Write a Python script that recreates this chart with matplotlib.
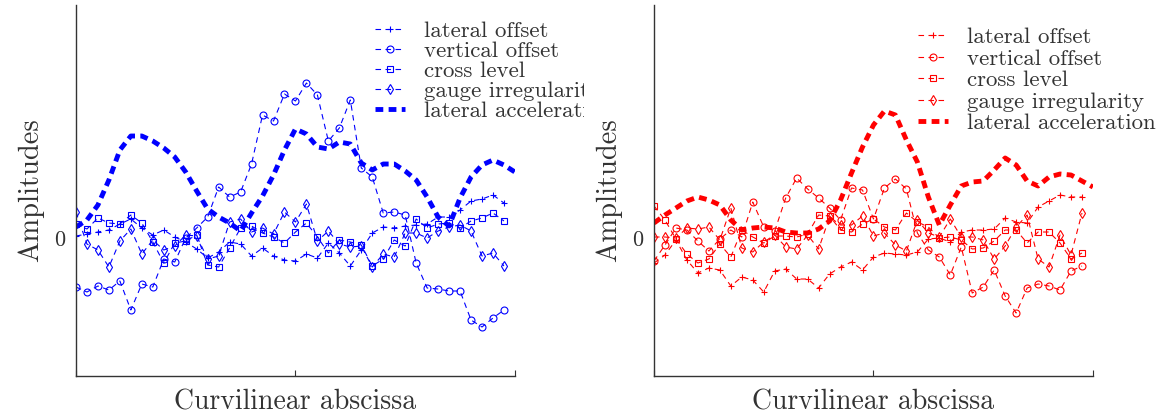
import matplotlib
matplotlib.use("Agg")
import matplotlib.pyplot as plt
import numpy as np
from matplotlib.transforms import Bbox

plt.rcParams["font.family"] = "serif"
plt.rcParams["font.serif"] = ["cmr10"]
plt.rcParams["axes.formatter.use_mathtext"] = True
plt.rcParams["mathtext.fontset"] = "cm"

# ---- data (amplitudes, arbitrary units) ----
series_names = ["lateral offset", "vertical offset", "cross level",
                "gauge irregularity", "lateral acceleration"]

left_lateral = [0.2, 0.4, 0.6, 0.8, 1.4, 1.9, 1.0, 0.3, 0.8, 0.1, -0.4, -1.1, -2.0, -1.4, -0.4, -0.6,
                -1.8, -1.0, -1.8, -2.2, -2.3, -1.6, -2.0, -0.5, -1.5, -2.8, -1.2, 0.5, 1.1, 1.0, 1.2,
                1.3, 1.4, 2.1, 2.1, 2.8, 3.7, 3.9, 4.3, 3.5]
left_vertical = [-4.9, -5.4, -4.8, -5.2, -4.3, -7.2, -4.6, -4.9, -2.1, -2.4, 0.0, 1.0, 2.1, 5.1, 4.1, 4.6,
                 7.4, 12.3, 11.7, 14.4, 13.7, 15.5, 14.3, 9.7, 11.0, 13.8, 7.0, 6.1, 2.5, 2.6, 2.3,
                 -2.5, -5.0, -5.1, -5.3, -5.3, -8.2, -8.9, -8.0, -7.2]
left_cross = [1.4, 0.9, 2.0, 1.5, 1.4, 2.3, 1.5, -0.4, -2.5, -0.5, -0.3, 0.3, -2.7, -2.9, -1.0, 1.0,
              1.2, 0.5, 0.1, -0.5, 0.6, 1.5, 0.1, -1.5, -0.2, -0.4, -0.7, -2.8, -2.1, -0.2, -0.8,
              1.9, 1.0, 1.4, 1.5, 1.0, 1.7, 2.0, 2.5, 1.7]
left_gauge = [2.6, -0.6, -1.2, -2.9, -0.3, 0.9, -1.6, -0.2, -1.2, -0.8, 0.3, 0.2, -2.1, -1.8, 1.6, 1.9,
              0.6, 1.0, 0.4, 2.6, 1.6, 3.4, -0.3, 0.7, -0.6, -0.9, -0.8, -2.9, -1.6, -1.9, 0.5,
              0.5, 0.0, 0.7, 1.1, 1.3, 0.7, -1.8, -1.5, -2.8]
left_accel = [1.1, 1.8, 3.3, 5.8, 8.8, 10.2, 10.2, 9.7, 9.0, 8.1, 6.6, 4.7, 2.9, 2.1, 1.5, 0.7,
              2.5, 4.2, 6.3, 8.8, 10.9, 10.4, 9.1, 8.9, 9.6, 9.4, 7.5, 6.8, 7.4, 7.4, 6.7,
              5.8, 4.1, 2.1, 1.2, 4.0, 6.1, 7.3, 7.8, 7.3, 6.6]

right_lateral = [-2.5, -1.7, -0.2, -2.2, -3.5, -3.0, -3.2, -4.8, -3.9, -4.2, -5.4, -3.3, -3.1, -4.1,
                 -4.1, -5.0, -3.6, -2.9, -2.4, -3.2, -1.9, -1.5, -1.6, -1.7, -1.4, -0.1, 0.0, -0.4,
                 0.6, 0.8, 0.8, 0.9, 2.0, 1.6, 1.5, 3.1, 3.7, 4.3, 4.1, 4.1]
right_vertical = [-2.3, -0.7, 1.0, 0.8, -0.3, -1.3, -0.1, 0.8, 0.1, 3.6, 1.1, 0.7, 4.0, 6.0, 4.9,
                  4.0, 3.0, 1.8, 5.0, 4.8, 1.9, 5.0, 5.9, 4.9, 0.5, -1.2, -1.9, -3.7, -0.9, -5.5,
                  -4.9, -3.2, -5.8, -7.5, -5.0, -4.6, -4.8, -5.2, -3.3, -2.8]
right_cross = [3.2, 1.8, -0.1, -1.6, -2.5, -2.1, -0.6, -1.9, 0.8, 0.1, -0.5, 0.2, 0.2, 0.1, 0.4, 2.3,
               2.2, 0.8, 0.6, 1.4, 1.9, 1.1, 0.8, 2.5, 1.6, 1.1, 0.0, 0.1, -0.2, -1.1, -1.0, -0.3,
               0.8, 0.8, -0.5, 0.6, 0.6, -0.5, -2.1, -1.5]
right_gauge = [0.1, 0.1, 0.0, 1.0, 0.9, 1.1, -0.2, 3.0, -1.0, -1.4, -0.4, 0.3, -0.9, -1.1, 0.3, -1.1,
               2.1, 1.3, 1.3, 2.2, 0.2, 0.5, -0.7, -1.3, 1.8, 0.5, 0.1, 1.9, 0.1, 0.1, -0.2, -2.1,
               -0.8, 1.1, 2.3, -2.1, -2.9, 0.3, -1.7, 2.5]
right_accel = [1.5, 2.3, 3.0, 3.7, 4.1, 3.8, 3.3, 1.8, 0.8, 1.0, 1.1, 1.0, 0.6, 0.5, 0.5, 0.9, 1.7,
               3.8, 6.5, 9.1, 11.3, 12.7, 12.3, 9.8, 7.6, 4.1, 1.3, 3.3, 5.2, 5.6, 5.7, 6.8, 8.0,
               7.3, 5.7, 5.2, 6.1, 6.4, 6.3, 5.7, 5.1]

markers = ["+", "o", "s", "d"]


def draw_panel(ax, data, accel, color, legend_anchor, spacing):
    x = np.arange(len(data[0]))
    xa = np.arange(len(accel))
    for vals, mk, name in zip(data, markers, series_names[:4]):
        ax.plot(x, vals, linestyle=(0, (5, 4)), linewidth=0.8, color=color,
                marker=mk, markersize=5 if mk != "d" else 5.5, markerfacecolor="none",
                markeredgewidth=0.8, label=name)
    ax.plot(xa, accel, linestyle=(0, (1.6, 1.1)), linewidth=3.5, color=color,
            label=series_names[4])

    ax.set_xlim(0, 40)
    ax.set_ylim(-13.8, 23.3)
    ax.set_xticks([0, 20, 40])
    ax.set_xticklabels([])
    ax.set_yticks([0])
    ax.set_yticklabels(["0"])
    ax.tick_params(axis="x", direction="in", length=4, width=0.8, colors="#333333")
    ax.tick_params(axis="y", length=0, labelsize=16, pad=8, labelcolor="#333333")
    for side in ["top", "right"]:
        ax.spines[side].set_visible(False)
    for side in ["left", "bottom"]:
        ax.spines[side].set_color("#333333")
        ax.spines[side].set_linewidth(1.0)
    ax.set_xlabel("Curvilinear abscissa", fontsize=20, color="#333333", labelpad=6)
    ax.set_ylabel("Amplitudes", fontsize=20.5, color="#333333", labelpad=7)

    leg = ax.legend(loc="upper left", bbox_to_anchor=legend_anchor, frameon=False,
                    fontsize=16.5, handlelength=1.3, handletextpad=0.85, labelspacing=spacing,
                    borderaxespad=0, borderpad=0)
    for t in leg.get_texts():
        t.set_color("#333333")
    return leg


fig = plt.figure(figsize=(11.6, 4.17), dpi=100)
ax1 = fig.add_axes([0.0655, 0.0983, 0.3784, 0.8897])
ax2 = fig.add_axes([0.5638, 0.0983, 0.3784, 0.8897])

leg1 = draw_panel(ax1, [left_lateral, left_vertical, left_cross, left_gauge], left_accel,
                  (0, 0, 1), (0.681, 0.957), 0.0)
leg2 = draw_panel(ax2, [right_lateral, right_vertical, right_cross, right_gauge], right_accel,
                  (1, 0, 0), (0.601, 0.94), 0.06)

# the left legend is cut off at the edge of its panel in the original
clip = Bbox.from_extents(0, 0, 584, 417)
for t in leg1.get_texts():
    t.set_clip_box(clip)
    t.set_clip_on(True)

fig.savefig("out.png", dpi=100)
